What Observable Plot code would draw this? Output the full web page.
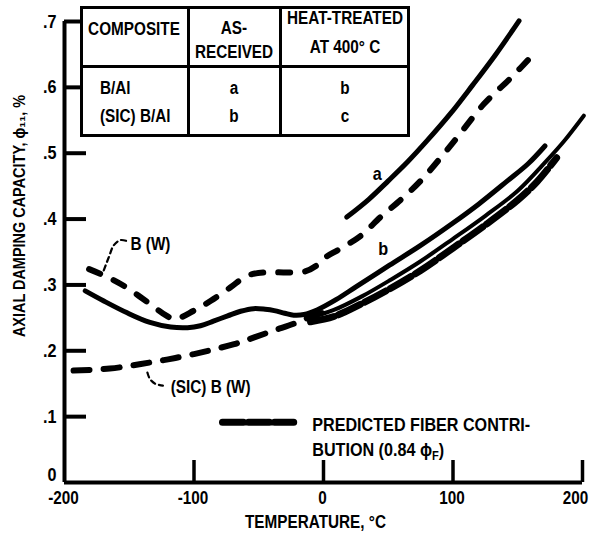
<!DOCTYPE html>
<html><head><meta charset="utf-8">
<script src="https://cdn.jsdelivr.net/npm/d3@7"></script>
<script src="https://cdn.jsdelivr.net/npm/@observablehq/plot@0.6"></script>
<style>
html,body{margin:0;padding:0;background:#fff;}
#wrap{position:relative;width:594px;height:533px;overflow:hidden;background:#fff;}
.box{position:absolute;background:#fff;border:3px solid #000;box-sizing:border-box;}
.ln{position:absolute;background:#000;}
.tt{position:absolute;transform:translate(-50%,-50%) scaleX(0.85);transform-origin:50% 50%;font-family:"Liberation Sans",Arial,sans-serif;font-weight:bold;font-size:18px;white-space:nowrap;line-height:1;color:#000;}
.tl{transform:translate(0,-50%) scaleX(0.85);transform-origin:0 50%;}
</style>
</head><body>
<div id="wrap"></div>
<script>
// ---- axes ----
const xDomain = [-200, 200];
const yDomain = [0, 0.7];
const xTicks = [-200, -100, 0, 100, 200];
const xTickLabels = ["-200", "-100", "0", "100", "200"];
const yTicks = [0, 0.1, 0.2, 0.3, 0.4, 0.5, 0.6, 0.7];
const yTickLabels = ["0", ".1", ".2", ".3", ".4", ".5", ".6", ".7"];
const xTitle = "TEMPERATURE, \u00B0C";
const yTitle = "AXIAL DAMPING CAPACITY, \u03D5\u2081\u2081, %";

// ---- series (temperature °C, damping %) ----
// B (W) upper dashed curve
const bwDashT = [-181, -167, -152, -136, -121, -115, -100, -87, -72, -59, -45, -30, -15, -5, 0, 13, 29, 44, 60, 75, 100, 124, 145, 162];
const bwDashV = [0.324, 0.312, 0.296, 0.274, 0.253, 0.248, 0.261, 0.276, 0.296, 0.314, 0.319, 0.319, 0.320, 0.330, 0.340, 0.355, 0.375, 0.403, 0.430, 0.458, 0.516, 0.575, 0.615, 0.650];
// B (W) solid curve, continuing as upper solid "b"
const bwSolidT = [-184, -170, -152, -134, -118, -105, -95, -85, -74, -64, -54, -45, -38, -30, -23, -15, -5, 10, 25, 51, 75, 100, 120, 142, 158, 171];
const bwSolidV = [0.291, 0.276, 0.258, 0.243, 0.236, 0.235, 0.238, 0.245, 0.253, 0.260, 0.264, 0.263, 0.261, 0.257, 0.254, 0.255, 0.262, 0.278, 0.297, 0.330, 0.360, 0.394, 0.423, 0.458, 0.484, 0.511];
// (SiC) B (W) lower dashed curve
const sicDashT = [-193, -165, -141, -120, -100, -85, -69, -54, -38, -23, -8, 2];
const sicDashV = [0.170, 0.173, 0.180, 0.187, 0.195, 0.202, 0.210, 0.220, 0.231, 0.241, 0.253, 0.259];
// solid "a"
const aSolidT = [18, 35, 50, 65, 80, 98, 115, 133, 151];
const aSolidV = [0.403, 0.430, 0.458, 0.487, 0.519, 0.560, 0.603, 0.650, 0.701];
// lower solid continuing to 200
const lowSolidT = [-8, 8, 30, 52, 75, 100, 125, 150, 172, 186, 201];
const lowSolidV = [0.252, 0.262, 0.283, 0.308, 0.336, 0.370, 0.405, 0.443, 0.488, 0.519, 0.557];
// predicted fiber contribution (heavy dashes)
const predT = [-10, 8, 30, 52, 75, 100, 125, 150, 165, 180];
const predV = [0.244, 0.252, 0.272, 0.295, 0.322, 0.356, 0.391, 0.429, 0.457, 0.493];

// ---- annotations ----
const curveLabels = ["a", "b"];
const curveLabelT = [41.5, 46];
const curveLabelV = [0.468, 0.355];
const nameLabels = ["B (W)", "(SIC) B (W)"];
const nameLabelT = [-149, -118];
const nameLabelV = [0.362, 0.145];
const bwLeaderT = [-152.5, -157, -162, -165.8, -169.7];
const bwLeaderV = [0.367, 0.368, 0.360, 0.342, 0.322];
const sicLeaderT = [-136, -134, -130, -124];
const sicLeaderV = [0.167, 0.157, 0.150, 0.147];
const legendSampleT = [-78, -23];
const legendSampleV = [0.0915, 0.0915];
const legendLines = ["PREDICTED FIBER CONTRI-", "BUTION (0.84 \u03D5_F)"];
const legendLineT = [-8.7, -8.7];
const legendLineV = [0.088, 0.049];

// ---- table ----
const tableHeaders = [["COMPOSITE"], ["AS-", "RECEIVED"], ["HEAT-TREATED", "AT 400\u00B0 C"]];
const tableComposites = ["B/Al", "(SIC) B/Al"];
const tableAsReceived = ["a", "b"];
const tableHeatTreated = ["b", "c"];

const W = 594, H = 533;
const M = {top: 21, right: 12, bottom: 51, left: 64};
const frameW = W - M.left - M.right;
const frameH = H - M.top - M.bottom;
const tickLen = 22;
const squeeze = 0.85;
const font = '"Liberation Sans",Arial,sans-serif';
const rows = (T, V) => T.map((t, i) => ({t, v: V[i]}));
const labelRows = (L, T, V) => L.map((s, i) => ({s, t: T[i], v: V[i]}));
const txt = {fontWeight: "bold", fontFamily: font};
const xFmt = d => xTickLabels[xTicks.indexOf(d)];

const chart = Plot.plot({
  width: W, height: H,
  marginTop: M.top, marginRight: M.right, marginBottom: M.bottom, marginLeft: M.left,
  x: {domain: xDomain},
  y: {domain: yDomain},
  style: {background: "#fff", color: "#000"},
  marks: [
    Plot.ruleX([xDomain[0]], {y1: yDomain[0], y2: yDomain[1], strokeWidth: 4, stroke: "#000"}),
    Plot.ruleY([yDomain[0]], {x1: xDomain[0], x2: xDomain[1], strokeWidth: 4, stroke: "#000"}),
    Plot.ruleY(yTicks.slice(1), {insetRight: frameW - tickLen, strokeWidth: 4, stroke: "#000"}),
    Plot.ruleX(xTicks.slice(1), {insetTop: frameH - tickLen, strokeWidth: 3.5, stroke: "#000"}),
    Plot.axisY({ticks: yTicks.slice(1), tickSize: 0, tickPadding: 8, label: null,
      tickFormat: d => yTickLabels[yTicks.indexOf(d)], fontSize: 19, ...txt}),
    Plot.axisY({ticks: yTicks.slice(0, 1), tickSize: 0, tickPadding: 8, label: null, dy: -8,
      tickFormat: d => yTickLabels[yTicks.indexOf(d)], fontSize: 19, ...txt}),
    Plot.axisX({ticks: xTicks.slice(0, -1), tickSize: 0, tickPadding: 9, label: null, dx: -1,
      tickFormat: xFmt, fontSize: 18, ...txt}),
    Plot.axisX({ticks: xTicks.slice(-1), tickSize: 0, tickPadding: 9, label: null, dx: -7,
      tickFormat: xFmt, fontSize: 18, ...txt}),
    Plot.text([xTitle], {frameAnchor: "bottom", textAnchor: "middle", lineAnchor: "middle", dy: 40, dx: -8, fontSize: 18, ...txt}),
    Plot.text([yTitle], {frameAnchor: "left", textAnchor: "middle", lineAnchor: "middle", rotate: -90, dx: -45, dy: -36, fontSize: 17, ...txt}),
    // curves
    Plot.line(rows(bwSolidT, bwSolidV), {x: "t", y: "v", curve: "catmull-rom", strokeWidth: 5, stroke: "#000", strokeLinecap: "round"}),
    Plot.line(rows(lowSolidT, lowSolidV), {x: "t", y: "v", curve: "catmull-rom", strokeWidth: 4, stroke: "#000", strokeLinecap: "round"}),
    Plot.line(rows(predT, predV), {x: "t", y: "v", curve: "catmull-rom", strokeWidth: 7, stroke: "#000", strokeDasharray: "24,5"}),
    Plot.line(rows(aSolidT, aSolidV), {x: "t", y: "v", curve: "catmull-rom", strokeWidth: 5, stroke: "#000", strokeLinecap: "round"}),
    Plot.line(rows(bwDashT, bwDashV), {x: "t", y: "v", curve: "catmull-rom", strokeWidth: 6, stroke: "#000", strokeDasharray: "12,15", strokeLinecap: "round"}),
    Plot.line(rows(sicDashT, sicDashV), {x: "t", y: "v", curve: "catmull-rom", strokeWidth: 6, stroke: "#000", strokeDasharray: "16,14", strokeLinecap: "round"}),
    // leaders
    Plot.line(rows(bwLeaderT, bwLeaderV), {x: "t", y: "v", curve: "catmull-rom", strokeWidth: 2.2, stroke: "#000", strokeDasharray: "5,4"}),
    Plot.line(rows(sicLeaderT, sicLeaderV), {x: "t", y: "v", curve: "catmull-rom", strokeWidth: 2.2, stroke: "#000", strokeDasharray: "5,4"}),
    // legend sample
    Plot.line(rows(legendSampleT, legendSampleV), {x: "t", y: "v", strokeWidth: 7, stroke: "#000", strokeDasharray: "21,5"}),
    // labels
    Plot.text(labelRows(curveLabels, curveLabelT, curveLabelV), {x: "t", y: "v", text: "s", fontSize: 19, ...txt}),
    Plot.text(labelRows(nameLabels, nameLabelT, nameLabelV), {x: "t", y: "v", text: "s", textAnchor: "start", fontSize: 18, ...txt}),
    Plot.text(labelRows(legendLines, legendLineT, legendLineV), {x: "t", y: "v", text: "s", textAnchor: "start", fontSize: 19, ...txt})
  ]
});

const wrap = document.getElementById("wrap");
wrap.appendChild(chart);

// subscript F in legend
chart.querySelectorAll("text").forEach(t => {
  if (t.textContent.includes("\u03D5_F")) {
    const base = t.textContent.split("\u03D5_F")[0];
    t.textContent = base + "\u03D5";
    const sub = document.createElementNS("http://www.w3.org/2000/svg", "tspan");
    sub.setAttribute("dy", "4"); sub.setAttribute("font-size", "13"); sub.textContent = "F";
    const cl = document.createElementNS("http://www.w3.org/2000/svg", "tspan");
    cl.setAttribute("dy", "-4"); cl.textContent = ")";
    t.appendChild(sub); t.appendChild(cl);
  }
});
// condensed look: squeeze every text horizontally
chart.querySelectorAll("text").forEach(t => {
  const len = t.getComputedTextLength();
  if (len > 0) {
    t.setAttribute("textLength", (len * squeeze).toFixed(1));
    t.setAttribute("lengthAdjust", "spacingAndGlyphs");
  }
});

// inset table (HTML overlay)
function add(cls, css, text) {
  const d = document.createElement("div");
  d.className = cls;
  Object.assign(d.style, css);
  if (text != null) d.textContent = text;
  wrap.appendChild(d);
  return d;
}
add("box", {left: "80px", top: "6px", width: "330px", height: "131px"});
add("ln", {left: "187px", top: "6px", width: "3px", height: "131px"});
add("ln", {left: "279px", top: "6px", width: "3px", height: "131px"});
add("ln", {left: "80px", top: "65px", width: "330px", height: "3px"});
const colX = [134, 234, 345];
const headerY = [[29], [27.5, 52], [18, 47]];
tableHeaders.forEach((lines, c) => lines.forEach((s, k) =>
  add("tt", {left: colX[c] + "px", top: headerY[c][k] + "px"}, s)));
const rowY = [87.5, 115.5];
tableComposites.forEach((s, r) => add("tt tl", {left: "100px", top: rowY[r] + "px"}, s));
tableAsReceived.forEach((s, r) => add("tt", {left: colX[1] + "px", top: rowY[r] + "px"}, s));
tableHeatTreated.forEach((s, r) => add("tt", {left: colX[2] + "px", top: rowY[r] + "px"}, s));
</script>
</body></html>
